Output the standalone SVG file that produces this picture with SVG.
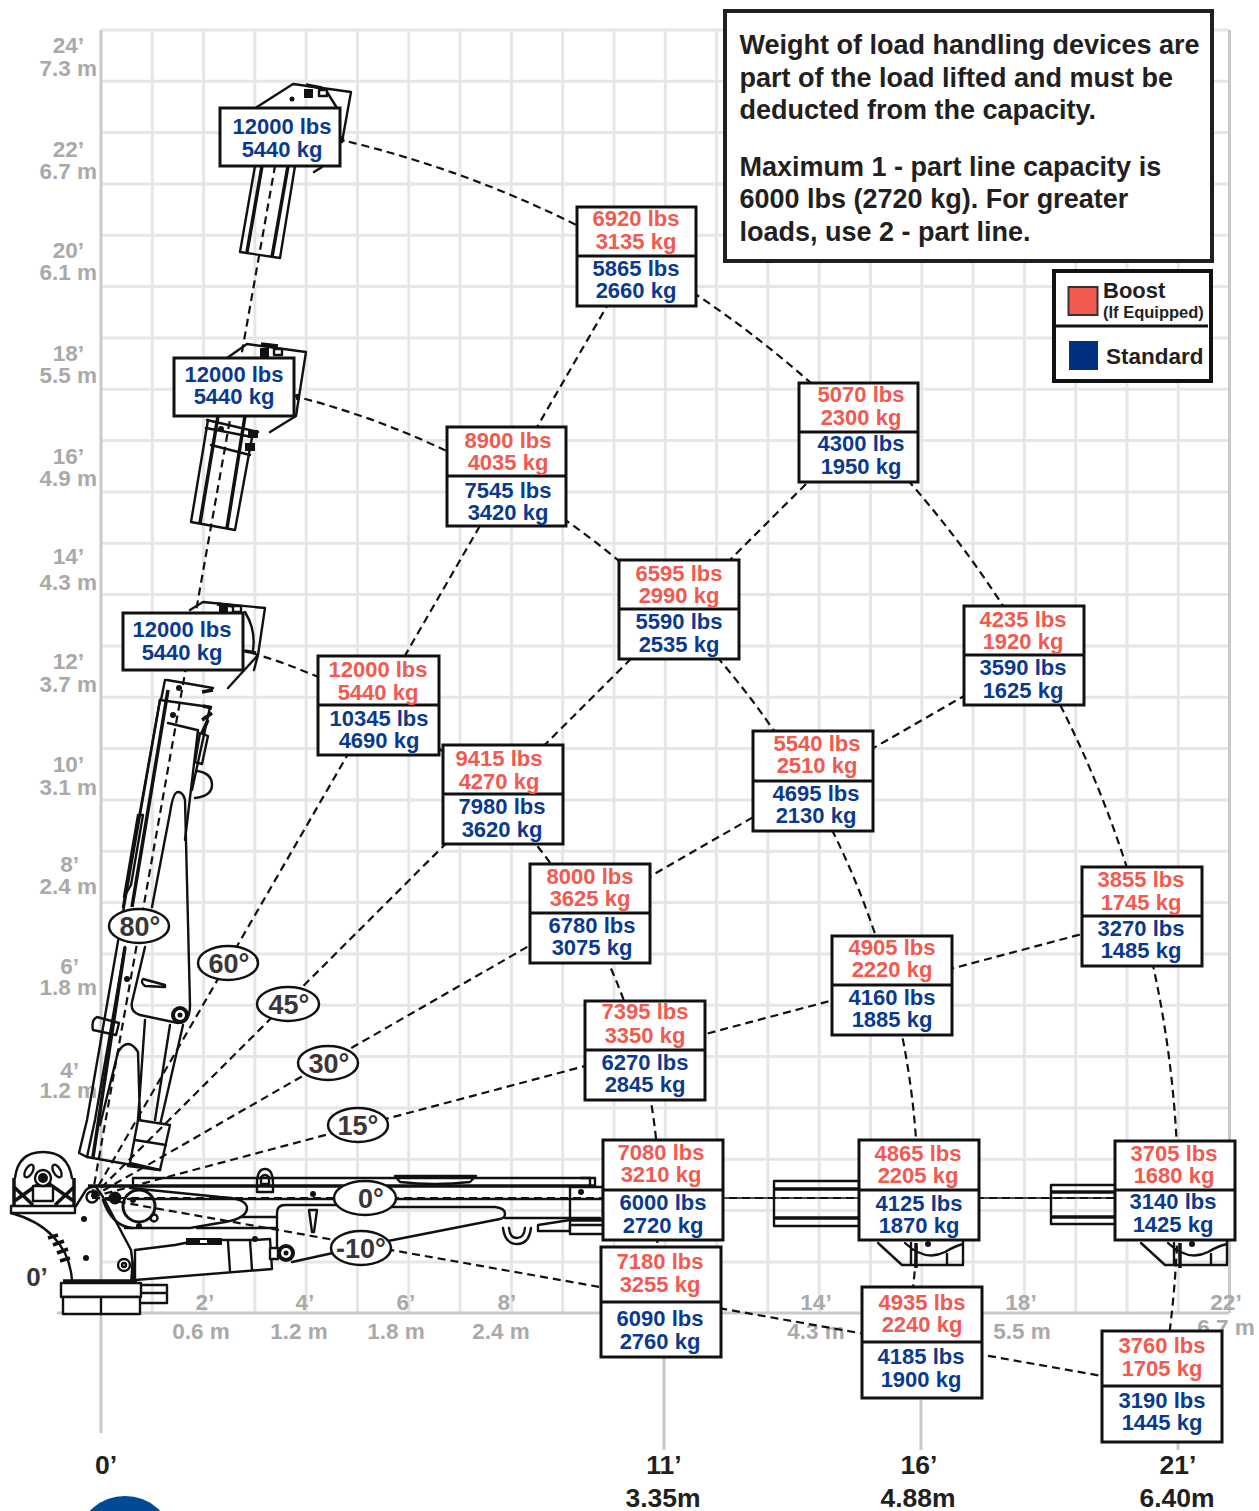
<svg xmlns="http://www.w3.org/2000/svg" width="1259" height="1511" viewBox="0 0 1259 1511">
<style>
text{font-family:"Liberation Sans",Arial,sans-serif;font-weight:700}
.g{stroke:#e6e6e6;stroke-width:3;fill:none}
.ax{stroke:#c9c9c9;stroke-width:3;fill:none}
.gl{fill:#a9a9a9;font-size:22.500px}
.r{text-anchor:end}
.m{text-anchor:middle}
.bk{fill:#231f20;font-size:26.500px;text-anchor:middle}
.box{fill:#fff;stroke:#111;stroke-width:3}
.t{font-size:22px;text-anchor:middle}
.red{fill:#f2594f}
.blue{fill:#0a3a8f}
.d{fill:none;stroke:#111;stroke-width:2.200;stroke-dasharray:8 5}
.c{fill:none;stroke:#111;stroke-width:2.400;stroke-linejoin:round;stroke-linecap:round}
.w{fill:#fff;stroke:#111;stroke-width:2.400;stroke-linejoin:round}
.th{fill:none;stroke:#111;stroke-width:3.500;stroke-linecap:butt}
.f{fill:#111;stroke:none}
.an{fill:#fff;stroke:#111;stroke-width:2.500}
.at{fill:#3a3637;font-size:27px;text-anchor:middle}
.info{fill:#231f20;font-size:27px}
</style>

<g id="grid">
<path class="g" d="M152.300 30V1313M203.600 30V1313M254.900 30V1313M306.200 30V1313M357.500 30V1313M408.800 30V1313M460.100 30V1313M511.400 30V1313M562.700 30V1313M614 30V1313M716.600 30V1313M767.900 30V1313M819.200 30V1313M870.500 30V1313M973.100 30V1313M1024.400 30V1313M1075.700 30V1313M1127 30V1313M665.300 30V1313M921.800 30V1313M1178.300 30V1313"/>
<path class="g" d="M101 30H1229M101 81.300H1229M101 132.600H1229M101 184H1229M101 235.300H1229M101 286.600H1229M101 338H1229M101 389.300H1229M101 440.600H1229M101 492H1229M101 543.300H1229M101 594.600H1229M101 646H1229M101 697.300H1229M101 748.600H1229M101 800H1229M101 851.300H1229M101 902.600H1229M101 954H1229M101 1005.300H1229M101 1056.600H1229M101 1108H1229M101 1159.300H1229M101 1210.600H1229M101 1262H1229"/>
<path class="ax" d="M101 30V1433M1229.500 30V1313M57 1313H1229M664 1313V1450M921 1400V1450M1178 1440V1450"/>
</g>

<g id="axis-labels">
<text class="gl r" x="84" y="53">24’</text><text class="gl r" x="97" y="76">7.3 m</text>
<text class="gl r" x="84" y="157">22’</text><text class="gl r" x="97" y="179">6.7 m</text>
<text class="gl r" x="84" y="258">20’</text><text class="gl r" x="97" y="280">6.1 m</text>
<text class="gl r" x="84" y="361">18’</text><text class="gl r" x="97" y="383">5.5 m</text>
<text class="gl r" x="84" y="464">16’</text><text class="gl r" x="97" y="486">4.9 m</text>
<text class="gl r" x="84" y="564">14’</text><text class="gl r" x="97" y="590">4.3 m</text>
<text class="gl r" x="84" y="669">12’</text><text class="gl r" x="97" y="692">3.7 m</text>
<text class="gl r" x="84" y="772">10’</text><text class="gl r" x="97" y="795">3.1 m</text>
<text class="gl r" x="79" y="872">8’</text><text class="gl r" x="97" y="894">2.4 m</text>
<text class="gl r" x="79" y="974">6’</text><text class="gl r" x="97" y="995">1.8 m</text>
<text class="gl r" x="79" y="1078">4’</text><text class="gl r" x="97" y="1098">1.2 m</text>
<text class="gl m" x="205" y="1310">2’</text><text class="gl m" x="201" y="1339">0.6 m</text>
<text class="gl m" x="305" y="1310">4’</text><text class="gl m" x="299" y="1339">1.2 m</text>
<text class="gl m" x="406" y="1310">6’</text><text class="gl m" x="396" y="1339">1.8 m</text>
<text class="gl m" x="507" y="1310">8’</text><text class="gl m" x="501" y="1339">2.4 m</text>
<text class="gl m" x="816" y="1310">14’</text><text class="gl m" x="816" y="1339">4.3 m</text>
<text class="gl m" x="1021" y="1310">18’</text><text class="gl m" x="1022" y="1339">5.5 m</text>
<text class="gl m" x="1226" y="1310">22’</text><text class="gl m" x="1226" y="1335">6.7 m</text>
<text x="37" y="1286" fill="#3a3637" font-size="26" text-anchor="middle">0’</text>
<text class="bk" x="106" y="1474">0’</text>
<text class="bk" x="664" y="1474">11’</text><text class="bk" x="663" y="1507">3.35m</text>
<text class="bk" x="919" y="1474">16’</text><text class="bk" x="918" y="1507">4.88m</text>
<text class="bk" x="1178" y="1474">21’</text><text class="bk" x="1177" y="1507">6.40m</text>
</g>
<ellipse id="logo" cx="125" cy="1536" rx="45" ry="40" fill="#004b93"/>

<g id="crane-base">
<path class="w" d="M11 1206H75V1213H11Z"/>
<path class="c" d="M11 1213C45 1222 70 1245 72 1281"/>
<path class="c" d="M76 1206L86 1190Q90 1186 96 1187L103 1197L131 1250L135 1281"/>
<path class="c" d="M103 1200Q112 1226 132 1228"/>
<path class="c" d="M15 1178Q18 1152 43 1152Q68 1152 72 1178"/>
<path class="th" d="M14 1178V1205M74 1178V1205M13 1202L40 1183M75 1202L48 1183M13 1186L33 1205M75 1186L55 1205"/>
<rect class="w" x="33" y="1186" width="20" height="15"/>
<circle class="w" cx="43" cy="1178" r="8"/><circle class="f" cx="43" cy="1178" r="5"/>
<ellipse class="c" cx="29" cy="1171" rx="3.500" ry="7" transform="rotate(30 29 1171)"/>
<ellipse class="c" cx="57" cy="1171" rx="3.500" ry="7" transform="rotate(-30 57 1171)"/>
<path class="th" d="M48 1238l10 -3M53 1245l11 -4M57 1253l11 -4M60 1261l10 -3"/>
<circle class="f" cx="84" cy="1219" r="3"/><circle class="f" cx="86" cy="1258" r="3"/>
<circle class="w" cx="124" cy="1265" r="6"/><circle class="c" cx="124" cy="1265" r="2"/>
<path class="f" d="M132 1255L137 1281H130Z"/>
<rect class="w" x="61" y="1283" width="80" height="14"/>
<rect class="w" x="63" y="1297" width="77" height="17"/>
<path class="c" d="M101 1297V1314M141 1285H167V1303H141M141 1293H167"/>
<path class="th" d="M63 1281H137"/>
<circle class="w" cx="92" cy="1197" r="5.500"/>
<circle class="f" cx="115" cy="1198" r="6.500"/>
</g>

<g id="crane-boom-0">
<path class="c" d="M133 1186V1178H595"/>
<path class="th" d="M88 1186H595"/>
<path class="c" d="M395 1176H476L470 1182Q435 1186 400 1182Z"/>
<path class="c" d="M130 1188L220 1197Q245 1198 247 1207Q248 1218 225 1222L190 1228H125"/>
<path class="c" d="M128 1199H340M390 1199H603"/>
<path class="c" d="M340 1205H285Q277 1205 277 1213V1250"/>
<path class="c" d="M390 1207H495Q505 1208 505 1214Q505 1218 500 1219L388 1241"/>
<path class="c" d="M505 1218H600M240 1217H277M197 1228H277"/>
<path class="c" d="M292 1262L333 1253"/>
<circle cx="139" cy="1206" r="16" fill="none" stroke="#111" stroke-width="3"/>
<circle class="f" cx="133" cy="1200" r="3"/><circle class="c" cx="154" cy="1218" r="3.500"/><circle class="f" cx="139" cy="1226" r="3"/>
<path class="c" d="M257 1184Q257 1169 265 1169Q273 1169 273 1184V1192H257ZM261 1184H269V1177Q265 1173 261 1177Z"/>
<circle class="f" cx="313" cy="1194" r="3"/>
<path class="c" d="M309 1210H317L314 1232H312Z"/>
<path class="c" d="M503 1228Q505 1244 517 1244Q529 1244 531 1228M509 1228Q510 1238 517 1238Q524 1238 525 1228"/>
<path class="c" d="M570 1217V1187H603V1220M581 1178H590V1186M595 1178V1187"/>
<circle class="f" cx="581" cy="1192" r="3"/>
<path class="c" d="M538 1225L570 1220V1231H538Z"/>
<rect class="w" x="570" y="1225" width="40" height="9"/>
<path class="th" d="M570 1220H603"/>
</g>

<g id="crane-lift-cylinder">
<path class="w" d="M135 1250L175 1245L200 1240H255L270 1239L272 1269L135 1280Z"/>
<path class="c" d="M228 1242L230 1271M250 1240L252 1270"/>
<rect class="f" x="186" y="1238" width="36" height="7"/><rect fill="#fff" x="200" y="1240" width="7" height="3"/>
<rect class="w" x="270" y="1248" width="8" height="11"/>
<circle class="f" cx="286" cy="1253" r="9"/><circle fill="#fff" cx="286" cy="1253" r="5"/><circle class="f" cx="286" cy="1253" r="2.500"/>
<circle class="f" cx="255" cy="1239" r="3"/>
</g>

<g id="crane-boom-80">
<path class="c" d="M160 700L117 947M117 947L87 1120L79 1153L87 1157L160 1170"/>
<path class="c" d="M87 1157L95 1120L125 947"/>
<path class="th" d="M132 907L168 690M125 947L93 1157"/>
<path class="c" d="M123 907L160 700M152 907L170 813Q173 792 178 792Q183 792 185 800L190 1005Q190 1023 178 1023L140 1015Q130 1012 132 1002L145 947"/>
<path class="c" d="M198 730L185 840M210 707L192 790"/>
<path class="c" d="M138 815H143L131 885L124 897Z"/>
<path class="c" d="M167 680L213 688M160 700L210 707M168 723L197 730M161 700L165 680"/>
<path class="th" d="M202 692L213 690M203 706L212 708M202 720L212 713M202 733L208 720"/>
<path class="c" d="M200 733L208 736L202 764L195 762Z"/>
<path class="c" d="M197 771Q212 773 212 785Q212 796 195 798"/>
<circle class="f" cx="179" cy="688" r="3"/><circle class="f" cx="173" cy="715" r="3"/>
<circle class="f" cx="127" cy="979" r="3"/>
<path class="c" d="M143 979L165 985V987L145 986Q140 982 143 979Z"/>
<path class="c" d="M97 1017L119 1023L116 1035L93 1030Q91 1020 97 1017Z"/>
<path class="c" d="M145 1020L138 1120M170 1025L155 1120M183 1025L160 1125M118 1052Q128 1036 138 1052L140 1120M118 1052L100 1125"/>
<circle class="f" cx="180" cy="1015" r="9"/><circle fill="#fff" cx="180" cy="1015" r="5"/><circle class="f" cx="180" cy="1015" r="2.500"/>
<path class="w" d="M130 1163L138 1120L170 1125L160 1170Z"/>
<path class="c" d="M135 1140L166 1145M130 1163L128 1166L160 1170"/>
<path class="c" d="M190 610L203 602L265 608L258 655L228 688M254 670L258 655"/>
<path class="th" d="M217 604L233 606"/><rect class="f" x="219" y="604" width="9" height="9"/><rect class="w" x="233" y="606" width="8" height="6"/>
<path class="c" d="M245 612Q256 630 253 650"/>
<path class="th" d="M245 651L256 653"/>
</g>

<g id="crane-boom-mid">
<path class="c" d="M208 420L191 522L235 530L253 432"/>
<path class="th" d="M200 523L218 416M227 528L245 416"/>
<path class="c" d="M207 420L258 432M206 428L252 437M211 445L250 455"/>
<circle class="f" cx="221" cy="429" r="3"/>
<rect class="f" x="248" y="430" width="10" height="8"/><rect class="f" x="245" y="443" width="10" height="8"/>
<path class="c" d="M227 358L247 344L306 352L296 416L270 432"/>
<path class="th" d="M261 344L278 346"/><rect class="f" x="260" y="348" width="9" height="9"/><rect class="w" x="274" y="349" width="8" height="6"/>
<path class="th" d="M297 394L298 400"/>
</g>

<g id="crane-boom-top">
<path class="c" d="M255 166L240 252L280 258L295 166"/>
<path class="th" d="M247 252L262 166M272 257L288 166"/>
<path class="c" d="M257 107L293 84L351 92L342 142M327 92L337 108"/>
<path class="th" d="M306 85L322 88"/>
<rect class="f" x="304" y="89" width="9" height="9"/><rect class="w" x="319" y="90" width="8" height="6"/>
<circle class="f" cx="292" cy="99" r="2.500"/>
<path class="c" d="M314 172L322 167"/>
<path class="th" d="M342 136L343 142"/>
</g>

<g id="crane-extended">
<rect class="c" x="774" y="1181" width="86" height="45"/>
<path class="th" d="M774 1189H860M774 1218H860"/>
<rect class="c" x="1051" y="1185" width="65" height="39"/>
<path class="th" d="M1051 1192H1116M1051 1217H1116"/>
<path class="c" d="M878 1243L902 1265H963V1240M911 1243V1265M947 1254V1265M905 1243Q925 1262 945 1252Q955 1246 963 1244"/>
<path class="th" d="M916 1243V1268"/><circle class="f" cx="928" cy="1244" r="3"/>
<path class="c" d="M1141 1243L1165 1265H1227V1240M1174 1243V1265M1211 1254V1265M1168 1243Q1188 1262 1208 1252Q1218 1246 1227 1244"/>
<path class="th" d="M1180 1243V1268"/><circle class="f" cx="1192" cy="1244" r="3"/>
</g>

<g id="connectors">
<path class="d" d="M92 1197L275 166"/>
<path class="d" d="M92 1197L607 306"/>
<path class="d" d="M92 1197L808 482"/>
<path class="d" d="M92 1197L964 696"/>
<path class="d" d="M92 1197L1082 934"/>
<path d="M723 1198H1115" fill="none" stroke="#111" stroke-width="1.500"/>
<path class="d" d="M92 1198H1115"/>
<path class="d" d="M92 1197L1102 1376"/>
<path class="d" d="M336.300 138.800A1086 1086 0 0 1 1161.500 1385.600"/>
<path class="d" d="M291.800 395.500A826 826 0 0 1 905.500 1340.400"/>
<path class="d" d="M238.700 649.300A567 567 0 0 1 650.400 1295.500"/>
</g>

<g id="angle-labels">
<g id="a80"><ellipse class="an" cx="139" cy="926" rx="30" ry="17"/><text class="at" x="140" y="936">80°</text></g>
<g id="a60"><ellipse class="an" cx="228" cy="963" rx="30" ry="17"/><text class="at" x="229" y="973">60°</text></g>
<g id="a45"><ellipse class="an" cx="288" cy="1004" rx="31" ry="17"/><text class="at" x="289" y="1014">45°</text></g>
<g id="a30"><ellipse class="an" cx="328" cy="1063" rx="30" ry="17"/><text class="at" x="329" y="1073">30°</text></g>
<g id="a15"><ellipse class="an" cx="358" cy="1125" rx="30" ry="17"/><text class="at" x="358" y="1135">15°</text></g>
<g id="a0"><ellipse class="an" cx="365" cy="1198" rx="31" ry="17"/><text class="at" x="371" y="1208">0°</text></g>
<g id="a-10"><ellipse class="an" cx="361" cy="1248" rx="30" ry="17"/><text class="at" x="361" y="1258">-10°</text></g>
</g>

<g id="n-top"><rect class="box" x="220" y="108" width="120" height="58"/><text class="t blue" x="282" y="134">12000 lbs</text><text class="t blue" x="282" y="157">5440 kg</text></g>
<g id="n-mid"><rect class="box" x="174" y="358" width="120" height="58"/><text class="t blue" x="234" y="382">12000 lbs</text><text class="t blue" x="234" y="404">5440 kg</text></g>
<g id="n-low"><rect class="box" x="123" y="613" width="120" height="57"/><text class="t blue" x="182" y="637">12000 lbs</text><text class="t blue" x="182" y="660">5440 kg</text></g>

<g id="n1"><rect class="box" x="577" y="207" width="119" height="99"/><path class="box" d="M577 256H696"/><text class="t red" x="636" y="226">6920 lbs</text><text class="t red" x="636" y="249">3135 kg</text><text class="t blue" x="636" y="276">5865 lbs</text><text class="t blue" x="636" y="298">2660 kg</text></g>
<g id="n2"><rect class="box" x="799" y="383" width="119" height="99"/><path class="box" d="M799 432H918"/><text class="t red" x="861" y="402">5070 lbs</text><text class="t red" x="861" y="425">2300 kg</text><text class="t blue" x="861" y="451">4300 lbs</text><text class="t blue" x="861" y="474">1950 kg</text></g>
<g id="n3"><rect class="box" x="447" y="427" width="119" height="99"/><path class="box" d="M447 476H566"/><text class="t red" x="508" y="448">8900 lbs</text><text class="t red" x="508" y="470">4035 kg</text><text class="t blue" x="508" y="498">7545 lbs</text><text class="t blue" x="508" y="520">3420 kg</text></g>
<g id="n4"><rect class="box" x="619" y="560" width="120" height="99"/><path class="box" d="M619 609H739"/><text class="t red" x="679" y="581">6595 lbs</text><text class="t red" x="679" y="603">2990 kg</text><text class="t blue" x="679" y="629">5590 lbs</text><text class="t blue" x="679" y="652">2535 kg</text></g>
<g id="n5"><rect class="box" x="964" y="606" width="120" height="99"/><path class="box" d="M964 655H1084"/><text class="t red" x="1023" y="627">4235 lbs</text><text class="t red" x="1023" y="649">1920 kg</text><text class="t blue" x="1023" y="675">3590 lbs</text><text class="t blue" x="1023" y="698">1625 kg</text></g>
<g id="n6"><rect class="box" x="318" y="656" width="121" height="99"/><path class="box" d="M318 705H439"/><text class="t red" x="378" y="677">12000 lbs</text><text class="t red" x="378" y="700">5440 kg</text><text class="t blue" x="379" y="726">10345 lbs</text><text class="t blue" x="379" y="748">4690 kg</text></g>
<g id="n7"><rect class="box" x="443" y="745" width="120" height="99"/><path class="box" d="M443 794H563"/><text class="t red" x="499" y="766">9415 lbs</text><text class="t red" x="499" y="789">4270 kg</text><text class="t blue" x="502" y="814">7980 lbs</text><text class="t blue" x="502" y="837">3620 kg</text></g>
<g id="n8"><rect class="box" x="753" y="731" width="120" height="100"/><path class="box" d="M753 781H873"/><text class="t red" x="817" y="751">5540 lbs</text><text class="t red" x="817" y="773">2510 kg</text><text class="t blue" x="816" y="801">4695 lbs</text><text class="t blue" x="816" y="823">2130 kg</text></g>
<g id="n9"><rect class="box" x="530" y="864" width="120" height="99"/><path class="box" d="M530 913H650"/><text class="t red" x="590" y="884">8000 lbs</text><text class="t red" x="590" y="906">3625 kg</text><text class="t blue" x="592" y="933">6780 lbs</text><text class="t blue" x="592" y="955">3075 kg</text></g>
<g id="n10"><rect class="box" x="1082" y="867" width="120" height="99"/><path class="box" d="M1082 916H1202"/><text class="t red" x="1141" y="887">3855 lbs</text><text class="t red" x="1141" y="910">1745 kg</text><text class="t blue" x="1141" y="936">3270 lbs</text><text class="t blue" x="1141" y="958">1485 kg</text></g>
<g id="n11"><rect class="box" x="832" y="936" width="120" height="99"/><path class="box" d="M832 985H952"/><text class="t red" x="892" y="955">4905 lbs</text><text class="t red" x="892" y="977">2220 kg</text><text class="t blue" x="892" y="1005">4160 lbs</text><text class="t blue" x="892" y="1027">1885 kg</text></g>
<g id="n12"><rect class="box" x="585" y="1001" width="120" height="99"/><path class="box" d="M585 1050H705"/><text class="t red" x="645" y="1019">7395 lbs</text><text class="t red" x="645" y="1043">3350 kg</text><text class="t blue" x="645" y="1070">6270 lbs</text><text class="t blue" x="645" y="1092">2845 kg</text></g>
<g id="n13"><rect class="box" x="603" y="1140" width="120" height="100"/><path class="box" d="M603 1190H723"/><text class="t red" x="661" y="1160">7080 lbs</text><text class="t red" x="661" y="1182">3210 kg</text><text class="t blue" x="663" y="1210">6000 lbs</text><text class="t blue" x="663" y="1233">2720 kg</text></g>
<g id="n14"><rect class="box" x="859" y="1140" width="120" height="100"/><path class="box" d="M859 1190H979"/><text class="t red" x="918" y="1161">4865 lbs</text><text class="t red" x="918" y="1183">2205 kg</text><text class="t blue" x="919" y="1211">4125 lbs</text><text class="t blue" x="919" y="1233">1870 kg</text></g>
<g id="n15"><rect class="box" x="1115" y="1141" width="120" height="99"/><path class="box" d="M1115 1190H1235"/><text class="t red" x="1174" y="1161">3705 lbs</text><text class="t red" x="1174" y="1183">1680 kg</text><text class="t blue" x="1173" y="1209">3140 lbs</text><text class="t blue" x="1173" y="1232">1425 kg</text></g>
<g id="n16"><rect class="box" x="601" y="1247" width="120" height="110"/><path class="box" d="M601 1302H721"/><text class="t red" x="660" y="1269">7180 lbs</text><text class="t red" x="660" y="1292">3255 kg</text><text class="t blue" x="660" y="1326">6090 lbs</text><text class="t blue" x="660" y="1349">2760 kg</text></g>
<g id="n17"><rect class="box" x="862" y="1287" width="120" height="111"/><path class="box" d="M862 1342H982"/><text class="t red" x="922" y="1310">4935 lbs</text><text class="t red" x="922" y="1332">2240 kg</text><text class="t blue" x="921" y="1364">4185 lbs</text><text class="t blue" x="921" y="1387">1900 kg</text></g>
<g id="n18"><rect class="box" x="1102" y="1331" width="120" height="111"/><path class="box" d="M1102 1386H1222"/><text class="t red" x="1162" y="1353">3760 lbs</text><text class="t red" x="1162" y="1376">1705 kg</text><text class="t blue" x="1162" y="1408">3190 lbs</text><text class="t blue" x="1162" y="1430">1445 kg</text></g>

<g id="info-box">
<rect x="725" y="11" width="487" height="250" fill="#fff" stroke="#231f20" stroke-width="4"/>
<text class="info" x="739.500" y="54">Weight of load handling devices are</text>
<text class="info" x="739.500" y="87">part of the load lifted and must be</text>
<text class="info" x="739.500" y="119">deducted from the capacity.</text>
<text class="info" x="739.500" y="176">Maximum 1 - part line capacity is</text>
<text class="info" x="739.500" y="208">6000 lbs (2720 kg). For greater</text>
<text class="info" x="739.500" y="241">loads, use 2 - part line.</text>
</g>

<g id="legend">
<rect x="1054" y="271" width="157" height="110" fill="#fff" stroke="#111" stroke-width="4"/>
<path d="M1054 326H1208" stroke="#111" stroke-width="3"/>
<rect x="1068.500" y="287" width="29" height="28" fill="#f2594f" stroke="#333" stroke-width="2"/>
<rect x="1069" y="341" width="29" height="29" fill="#00307f"/>
<text x="1103" y="298" fill="#231f20" font-size="22">Boost</text>
<text x="1103" y="318" fill="#231f20" font-size="16.500">(If Equipped)</text>
<text x="1106" y="364" fill="#231f20" font-size="22.500">Standard</text>
</g>
</svg>
